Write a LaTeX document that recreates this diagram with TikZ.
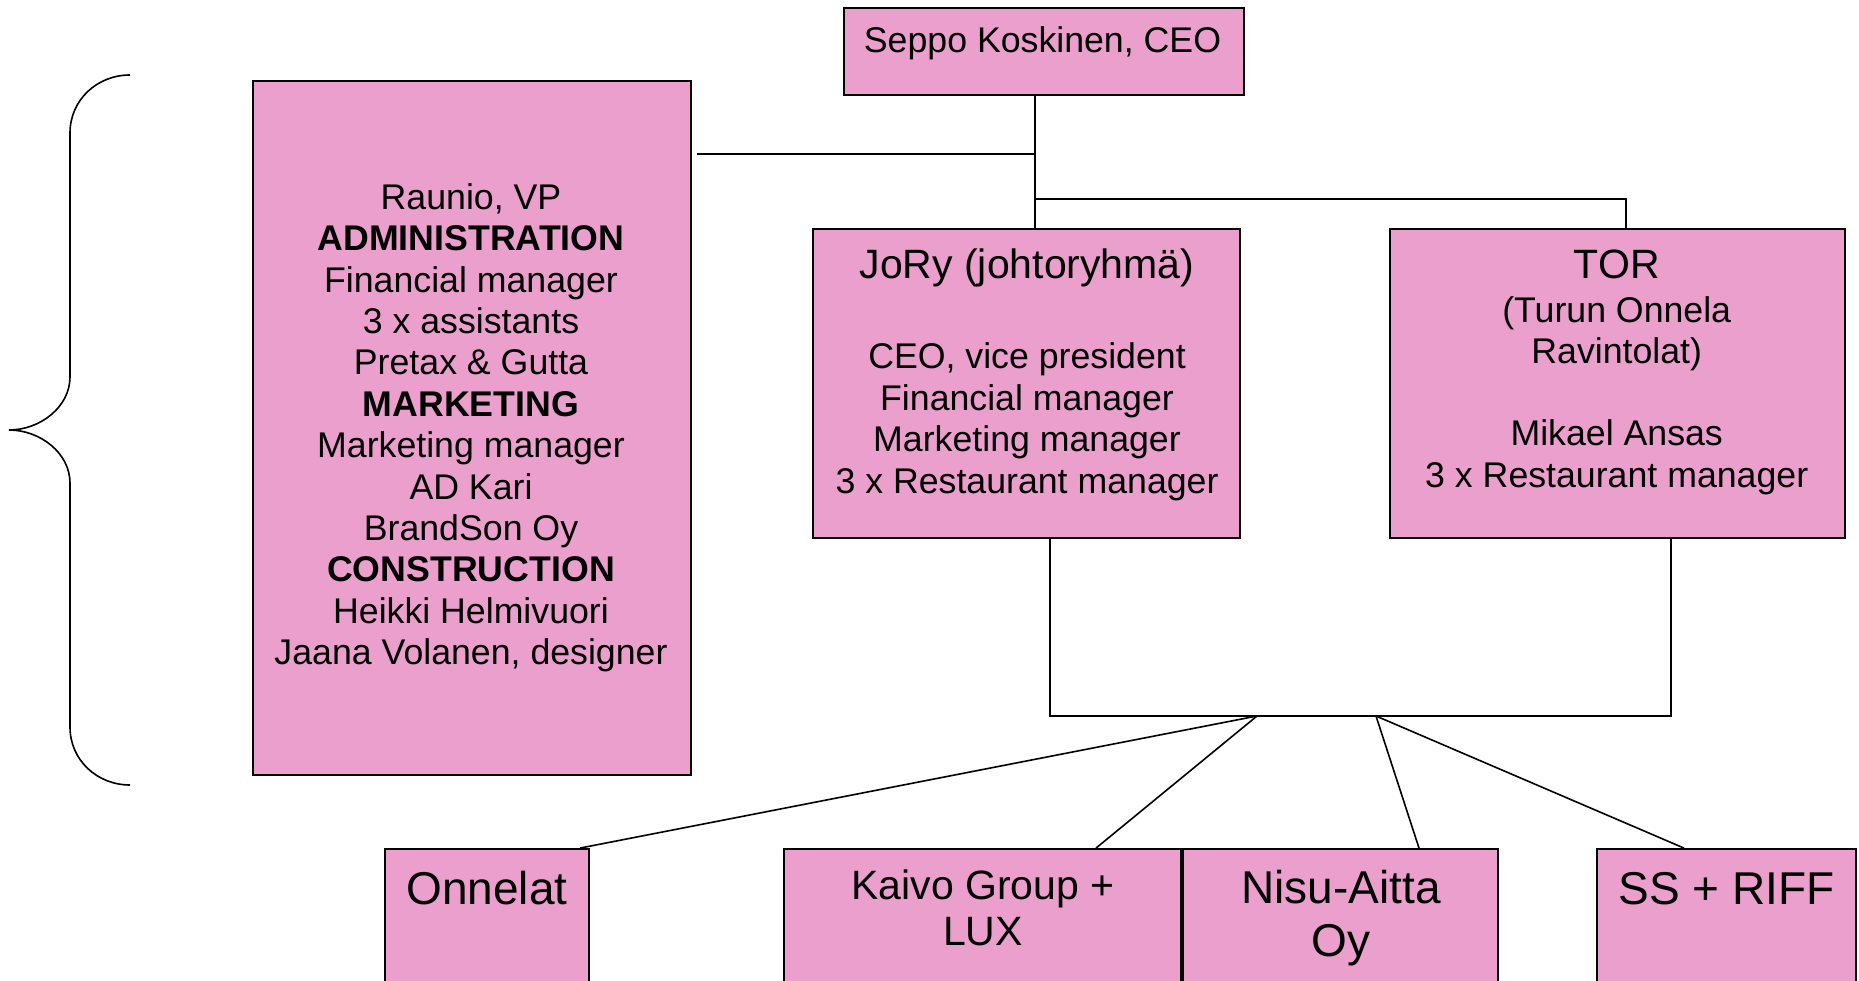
\documentclass[tikz,border=0pt]{standalone}
\usepackage{fontspec}
\setmainfont{Liberation Sans}
\definecolor{boxpink}{RGB}{234,159,204}
\tikzset{
  orgbox/.style={draw=black, fill=boxpink, line width=1.8pt, inner sep=0pt, rectangle},
  conn/.style={draw=black, line width=1.6pt},
  bodytext/.style={inner sep=0pt, anchor=base, align=center, font=\fontsize{35.7}{41.4}\selectfont},
  headtext/.style={inner sep=0pt, anchor=base, align=center, font=\fontsize{41}{46}\selectfont},
  bigtext/.style={inner sep=0pt, anchor=base, align=center, font=\fontsize{46}{52.7}\selectfont}
}
\begin{document}
\begin{tikzpicture}[x=1pt, y=-1pt]
\useasboundingbox (0,0) rectangle (1859,981);
\clip (0,0) rectangle (1859,981);
\fill[white] (0,0) rectangle (1859,981);

% boxes
\node[orgbox, minimum width=400pt, minimum height=87pt] (ceo) at (1044,51.5) {};
\node[orgbox, minimum width=438pt, minimum height=694pt] (adm) at (472,428) {};
\node[orgbox, minimum width=427pt, minimum height=309pt] (jory) at (1026.5,383.5) {};
\node[orgbox, minimum width=455pt, minimum height=309pt] (tor) at (1617.5,383.5) {};
\node[orgbox, minimum width=204pt, minimum height=170pt] (onn) at (487,934) {};
\node[orgbox, minimum width=397pt, minimum height=170pt] (kai) at (982.5,934) {};
\node[orgbox, minimum width=315pt, minimum height=170pt] (nisu) at (1340.5,934) {};
\node[orgbox, minimum width=259pt, minimum height=170pt] (ss) at (1726.5,934) {};

% texts
\node[bodytext] (ceoT) at (1042.5,52.4) {Seppo Koskinen, CEO};
\node[bodytext] (admT) at (471,664.7) {Raunio, VP\\\textbf{ADMINISTRATION}\\Financial manager\\3 x assistants\\Pretax \& Gutta\\\textbf{MARKETING}\\Marketing manager\\AD Kari\\BrandSon Oy\\\textbf{CONSTRUCTION}\\Heikki Helmivuori\\Jaana Volanen, designer};
\node[headtext] (joryH) at (1027,279) {JoRy (johtoryhmä)};
\node[bodytext] (joryT) at (1027,493.1) {CEO, vice president\\Financial manager\\Marketing manager\\3 x Restaurant manager};
\node[headtext] (torH) at (1616.7,279) {TOR};
\node[bodytext] (torS) at (1616.7,363.7) {(Turun Onnela\\Ravintolat)};
\node[bodytext] (torT) at (1616.7,487.2) {Mikael Ansas\\3 x Restaurant manager};
\node[bigtext] (onnT) at (487,904) {Onnelat};
\node[headtext] (kaiT) at (983,945) {Kaivo Group +\\LUX};
\node[bigtext] (nisuT) at (1341,956) {Nisu-Aitta\\Oy};
\node[bigtext] (ssT) at (1726.5,904) {SS + RIFF};

% junction coordinates
\coordinate (jTop) at (1035,154);
\coordinate (jMid) at (1035,199);
\coordinate (jTor) at (1626,199);
\coordinate (jL) at (1050,716);
\coordinate (jR) at (1671,716);
\coordinate (d1) at (1257,716);
\coordinate (d2) at (1376,716);

% connectors
\draw[conn] (ceo.south -| jTop) -- (jory.north -| jTop);
\draw[conn] ([xshift=5pt]adm.east |- jTop) -- (jTop);
\draw[conn] (jMid) -- (jTor) -- (tor.north -| jTor);
\draw[conn] (jory.south -| jL) -- (jL) -- (jR) -- (tor.south -| jR);
\draw[conn] (d1) -- ([xshift=-10pt]onn.north east);
\draw[conn] (d1) -- ([xshift=113.5pt]kai.north);
\draw[conn] (d2) -- ([xshift=78.5pt]nisu.north);
\draw[conn] (d2) -- ([xshift=-42.5pt]ss.north);

% brace
\draw[line width=1.6pt] (130,75) .. controls (97,75) and (70,100) .. (70,133)
  -- (70,377) .. controls (70,407) and (40,430) .. (9,430)
  .. controls (40,430) and (70,453) .. (70,483)
  -- (70,727) .. controls (70,760) and (97,785) .. (130,785);
\end{tikzpicture}
\end{document}
